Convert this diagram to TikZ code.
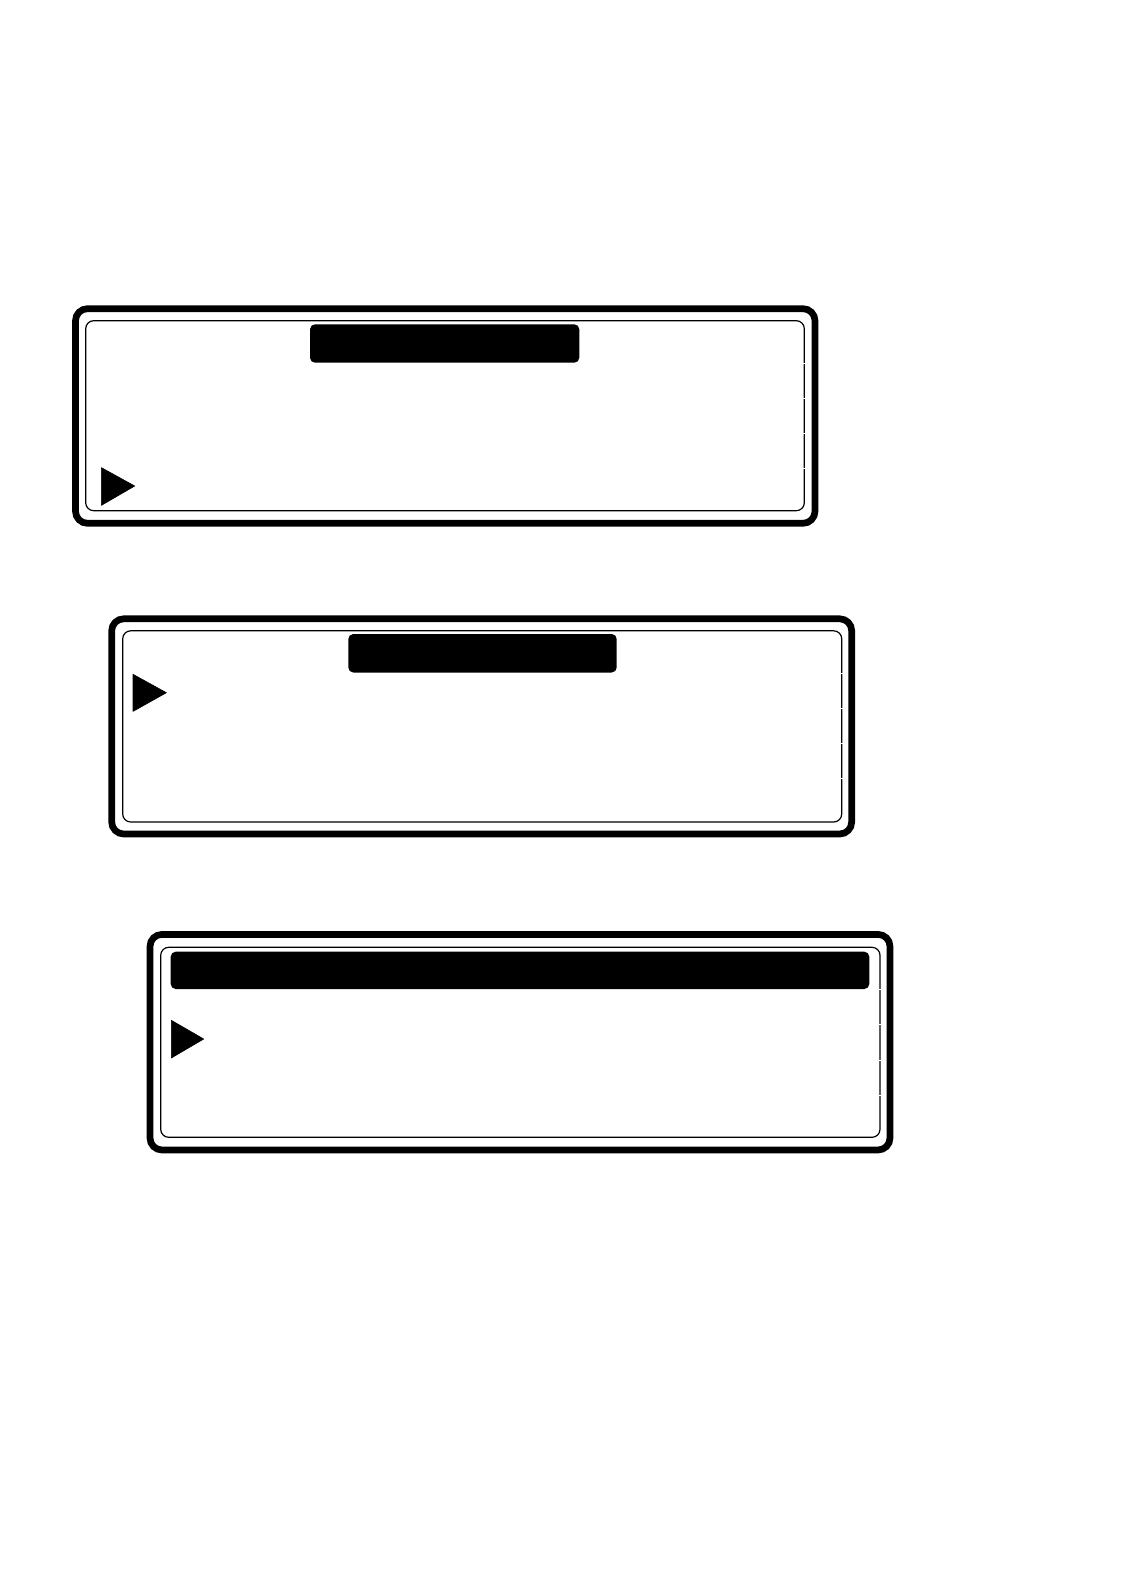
\documentclass[tikz,border=0pt]{standalone}
\begin{document}
\begin{tikzpicture}[x=1pt,y=-1pt,
  outerframe/.style={draw=black,line width=6.7pt,rounded corners=12pt},
  innerframe/.style={draw=black,line width=1.2pt,rounded corners=8pt},
  headerbar/.style={fill=black,rounded corners=5pt},
  pointer/.style={fill=black,draw=black,line width=0.6pt,line join=round},
  gapmark/.style={draw=white,line width=1pt}]
\useasboundingbox[fill=white] (0,0) rectangle (1120,1584);
% panel 1
\draw[outerframe] (75.5,308.7) rectangle (815,523.3);
\draw[innerframe] (85.7,320.7) rectangle (804.3,510.7);
\fill[headerbar] (310,324.3) rectangle (579.3,362.7);
\draw[pointer] (101.3,467.6) -- (134.7,486) -- (101.3,505.4) -- cycle;
\foreach \y in {363,398,433,468} \draw[gapmark] (801,\y) -- (806,\y);
% panel 2
\draw[outerframe] (111.7,618.8) rectangle (851.7,834);
\draw[innerframe] (122.7,630.8) rectangle (841.7,822);
\fill[headerbar] (348.3,634) rectangle (616.7,672.5);
\draw[pointer] (133,674.3) -- (166.4,692.7) -- (133,711.4) -- cycle;
\foreach \y in {673,708,743,778} \draw[gapmark] (838.5,\y) -- (843.5,\y);
% panel 3
\draw[outerframe] (150,934.4) rectangle (890,1150);
\draw[innerframe] (160.7,947.3) rectangle (880,1137.3);
\fill[headerbar] (170.7,951.7) rectangle (869.3,989);
\draw[pointer] (171.3,1020.3) -- (203.7,1039) -- (171.3,1058) -- cycle;
\foreach \y in {989,1024,1060,1095} \draw[gapmark] (877,\y) -- (882,\y);
\end{tikzpicture}
\end{document}
